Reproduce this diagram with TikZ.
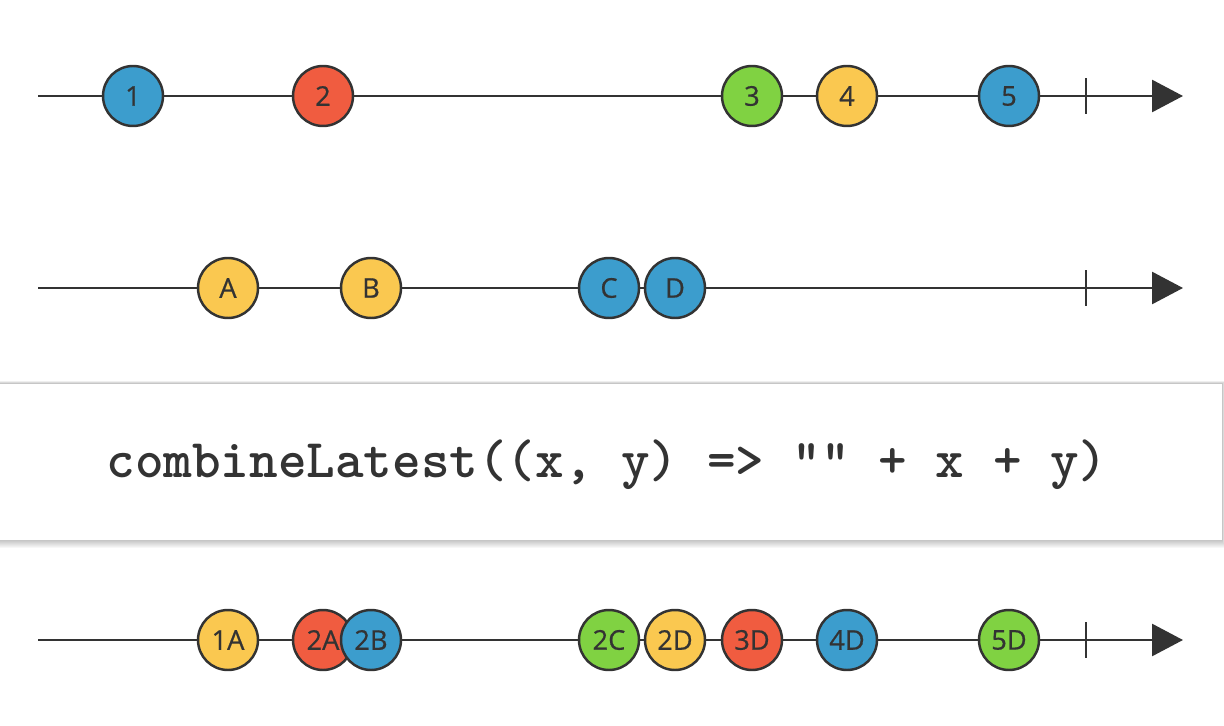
\documentclass[tikz,border=0pt]{standalone}
\usepackage{fontspec}
\newfontfamily\marblefont[FakeBold=0.6]{Open Sans}
\usepackage{tikz}
\usetikzlibrary{arrows.meta}
\definecolor{mblue}{RGB}{60,157,205}
\definecolor{mred}{RGB}{240,92,64}
\definecolor{mgreen}{RGB}{128,210,66}
\definecolor{myellow}{RGB}{250,200,80}
\definecolor{ink}{RGB}{51,51,51}

\begin{document}
\begin{tikzpicture}[x=0.02cm,y=-0.02cm]
\tikzset{marble/.style={circle,draw=ink,line width=1.4pt,minimum size=1.2cm,inner sep=0pt,font=\marblefont\fontsize{15.5}{15.5}\selectfont,text=ink},
  tline/.style={draw=ink,line width=1.6pt,-{Triangle[length=0.62cm,width=0.64cm]}},
  tick/.style={draw=ink,line width=1.6pt}}
\useasboundingbox (0,0) rectangle (1224,726);
% three timelines: two inputs and the combined output
\foreach \r/\y in {a/96,b/288,c/640} {
    \coordinate (s\r) at (38,\y);
    \coordinate (e\r) at (1183,\y);
    \coordinate (t\r) at (1086,\y);
    \draw[tline] (s\r) -- (e\r);
    \draw[tick] ([yshift=-10pt]t\r) -- ([yshift=10pt]t\r);
}
% first input
\node[marble,fill=mblue] (n1) at (133,96) {1};
\node[marble,fill=mred] (n2) at (323,96) {2};
\node[marble,fill=mgreen] (n3) at (752,96) {3};
\node[marble,fill=myellow] (n4) at (847,96) {4};
\node[marble,fill=mblue] (n5) at (1009,96) {5};
% second input
\node[marble,fill=myellow] (nA) at (228,288) {A};
\node[marble,fill=myellow] (nB) at (371,288) {B};
\node[marble,fill=mblue] (nC) at (609,288) {C};
\node[marble,fill=mblue] (nD) at (675,288) {D};
% operator box with a soft shadow
\foreach \i in {1,...,9}
    \fill[black,opacity=0.03] (0,384-\i/3) rectangle (1222+\i/3,539+\i);
\node[fill=white,minimum width=24.44cm,minimum height=3.12cm,inner sep=0pt,anchor=north west] (op) at (0,384) {};
\node[font=\ttfamily\bfseries\fontsize{31}{31}\selectfont,text=ink] (fn) at (607,465)
  {combineLatest((x, y) => "" + x + y)};
% output
\node[marble,fill=myellow] (o1A) at (228,640) {1A};
\node[marble,fill=mred] (o2A) at (323,640) {2A};
\node[marble,fill=mblue] (o2B) at (371,640) {2B};
\node[marble,fill=mgreen] (o2C) at (609,640) {2C};
\node[marble,fill=myellow] (o2D) at (675,640) {2D};
\node[marble,fill=mred] (o3D) at (752,640) {3D};
\node[marble,fill=mblue] (o4D) at (847,640) {4D};
\node[marble,fill=mgreen] (o5D) at (1009,640) {5D};
\end{tikzpicture}
\end{document}
